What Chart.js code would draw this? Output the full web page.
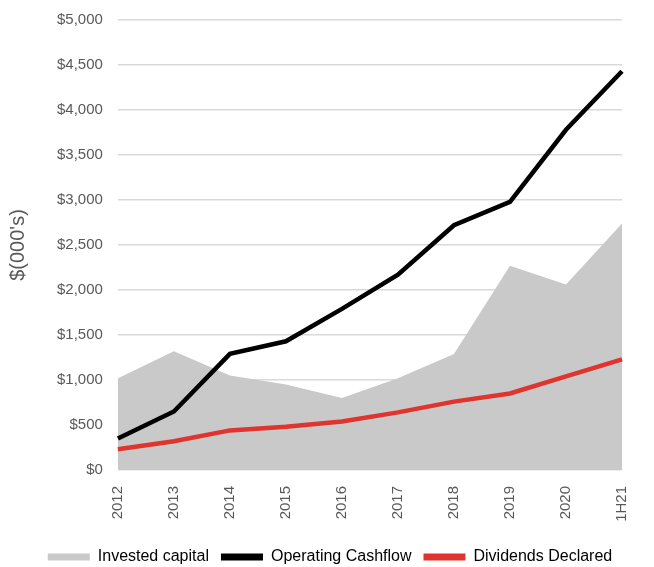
<!DOCTYPE html>
<html>
<head>
<meta charset="utf-8">
<title>Invested capital vs cashflow</title>
<script src="https://cdn.jsdelivr.net/npm/chart.js@4"></script>
<style>
    html, body { margin: 0; padding: 0; background: #fff; }
    #wrap { width: 654px; height: 567px; position: relative; }
</style>
</head>
<body>
<div id="wrap"><canvas id="mainChart"></canvas></div>
<script>
const years = ['2012', '2013', '2014', '2015', '2016', '2017', '2018', '2019', '2020', '1H21'];
const investedCapital = [1020, 1320, 1050, 950, 800, 1020, 1290, 2270, 2060, 2740];
const operatingCashflow = [350, 650, 1290, 1430, 1790, 2170, 2720, 2980, 3780, 4430];
const dividendsDeclared = [230, 320, 440, 480, 540, 640, 760, 850, 1040, 1230];
const yTicks = [0, 500, 1000, 1500, 2000, 2500, 3000, 3500, 4000, 4500, 5000];

const GREY_TEXT = '#595959';
const FONT = 'Liberation Sans, Arial, sans-serif';

const ctx = document.getElementById('mainChart').getContext('2d');

const chart = new Chart(ctx, {
    type: 'line',
    data: {
        labels: years,
        datasets: [
            {
                label: 'Invested capital',
                data: investedCapital,
                fill: 'origin',
                backgroundColor: '#c9c9c9',
                borderColor: '#c9c9c9',
                borderWidth: 0,
                pointRadius: 0,
                tension: 0
            },
            {
                label: 'Operating Cashflow',
                data: operatingCashflow,
                borderColor: '#000000',
                backgroundColor: '#000000',
                borderWidth: 4.5,
                pointRadius: 0,
                tension: 0,
                fill: false
            },
            {
                label: 'Dividends Declared',
                data: dividendsDeclared,
                borderColor: '#e0342e',
                backgroundColor: '#e0342e',
                borderWidth: 4.5,
                pointRadius: 0,
                tension: 0,
                fill: false
            }
        ]
    },
    options: {
        responsive: true,
        maintainAspectRatio: false,
        animation: false,
        layout: { padding: { top: 0, right: 0, left: 6, bottom: 0 } },
        scales: {
            x: {
                offset: false,
                grid: { display: false },
                border: { display: false },
                ticks: {
                    color: GREY_TEXT,
                    font: { family: FONT, size: 15 },
                    minRotation: 90,
                    maxRotation: 90,
                    padding: 8
                },
                afterFit: axis => { axis.height = 67; }
            },
            y: {
                min: 0,
                max: 5000,
                afterBuildTicks: axis => { axis.ticks = yTicks.map(v => ({ value: v })); },
                afterFit: axis => { axis.paddingTop = 20; axis.paddingBottom = 0; },
                grid: { color: '#d9d9d9', lineWidth: 1.5, drawTicks: false },
                border: { display: false },
                ticks: {
                    color: GREY_TEXT,
                    font: { family: FONT, size: 15 },
                    padding: 15,
                    callback: v => '$' + v.toLocaleString('en-US')
                },
                title: {
                    display: true,
                    text: "$(000's)",
                    color: GREY_TEXT,
                    font: { family: FONT, size: 20 },
                    padding: { top: 0, bottom: 12 }
                }
            },
            // empty right-hand axis, only keeps the margin on the right
            yRight: {
                position: 'right',
                display: true,
                grid: { display: false },
                border: { display: false },
                ticks: { display: false },
                afterFit: axis => { axis.width = 32; }
            }
        },
        plugins: {
            filler: { drawTime: 'beforeDatasetsDraw' },
            tooltip: { enabled: false },
            legend: {
                position: 'bottom',
                maxHeight: 30,
                labels: {
                    color: '#404040',
                    font: { family: FONT, size: 16 },
                    boxWidth: 42,
                    boxHeight: 7,
                    padding: 12,
                    generateLabels: c => c.data.datasets.map((d, i) => ({
                        text: d.label,
                        fillStyle: d.borderColor,
                        strokeStyle: d.borderColor,
                        lineWidth: 0,
                        hidden: false,
                        datasetIndex: i
                    }))
                }
            }
        }
    }
});
</script>
</body>
</html>
